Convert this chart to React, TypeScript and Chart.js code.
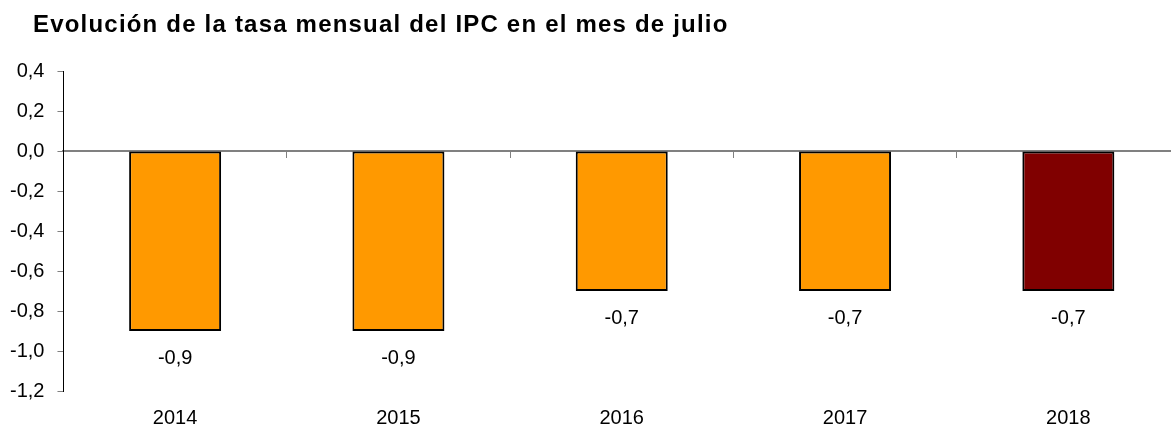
import React, { useEffect, useRef } from "react";
import { Chart, registerables } from "chart.js";

Chart.register(...registerables);

const TITLE = "Evolución de la tasa mensual del IPC en el mes de julio";
const YEARS = ["2014", "2015", "2016", "2017", "2018"];
const VALUES = [-0.9, -0.9, -0.7, -0.7, -0.7];
const COLORS = ["#FF9900", "#FF9900", "#FF9900", "#FF9900", "#800000"];
const Y_MIN = -1.2;
const Y_MAX = 0.4;
const Y_STEP = 0.2;

const FONT = "Liberation Sans, Arial, sans-serif";

const fmt = (v: number) => {
  const x = Math.abs(v) < 1e-9 ? 0 : v;
  return x.toFixed(1).replace(".", ",");
};

const SHIFT_X = 10;

const extrasPlugin = {
  id: "extras",
  afterDatasetsDraw(chart: any) {
    const ctx = chart.ctx;
    const meta = chart.getDatasetMeta(0);
    ctx.save();
    ctx.fillStyle = "#000";
    ctx.font = `20px ${FONT}`;
    ctx.textAlign = "center";
    ctx.textBaseline = "middle";
    meta.data.forEach((bar: any, i: number) => {
      ctx.fillText(fmt(VALUES[i]), bar.x, bar.y + 27);
    });
    ctx.font = `bold 24px ${FONT}`;
    ctx.textAlign = "left";
    ctx.textBaseline = "alphabetic";
    try {
      (ctx as any).letterSpacing = "1.2px";
    } catch (e) {}
    ctx.fillText(TITLE, 33 + SHIFT_X, 32);
    ctx.restore();
  },
};

export default function App() {
  const ref = useRef<HTMLCanvasElement>(null);
  useEffect(() => {
    if (!ref.current) return;
    const chart = new Chart(ref.current, {
      type: "bar",
      data: {
        labels: YEARS,
        datasets: [
          {
            data: VALUES,
            backgroundColor: COLORS,
            borderColor: "#000",
            borderWidth: 2,
            borderSkipped: false,
            barPercentage: 0.412,
            categoryPercentage: 1,
          },
        ],
      },
      options: {
        responsive: false,
        animation: false,
        layout: { padding: { top: 71, left: 7, right: 0, bottom: 0 } },
        plugins: { legend: { display: false }, tooltip: { enabled: false }, title: { display: false } },
        scales: {
          x: {
            position: "bottom",
            offset: true,
            grid: { display: false, drawTicks: false },
            border: { display: false },
            ticks: { color: "#000", font: { family: FONT, size: 20 }, padding: 15, maxRotation: 0 },
          },
          x2: {
            position: { y: 0 },
            labels: YEARS,
            type: "category",
            offset: true,
            grid: { display: true, drawOnChartArea: false, drawTicks: true, tickLength: 6, color: "#808080", offset: true },
            border: { display: true, color: "#808080", width: 2 },
            ticks: { display: false },
          },
          y: {
            min: Y_MIN,
            max: Y_MAX,
            ticks: {
              stepSize: Y_STEP,
              color: "#000",
              font: { family: FONT, size: 20 },
              padding: 13,
              callback: (v: any) => fmt(Number(v)),
            },
            grid: { drawOnChartArea: false, drawTicks: true, tickLength: 6, color: "#808080" },
            border: { display: true, color: "#000", width: 1 },
          },
        },
      },
      plugins: [extrasPlugin],
    } as any);
    return () => chart.destroy();
  }, []);
  return (
    <div style={{ position: "absolute", left: 0, top: 0, width: 1171, height: 426, overflow: "hidden" }}>
      <canvas
        ref={ref}
        width={1190}
        height={445}
        style={{ display: "block", marginLeft: -SHIFT_X }}
      />
    </div>
  );
}
